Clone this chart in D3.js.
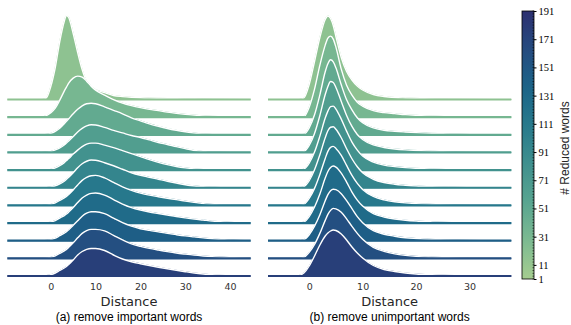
<!DOCTYPE html>
<html>
<head>
<meta charset="utf-8">
<script src="https://cdn.jsdelivr.net/npm/d3@7/dist/d3.min.js"></script>
<style>
  body { margin: 0; background: #fff; }
  svg { display: block; }
</style>
</head>
<body>
<svg id="chart" width="571" height="325"></svg>
<script>
// rows = number of reduced words, top row first
const reducedWords = [1, 20, 39, 58, 77, 96, 115, 134, 153, 172, 191];
const cbarTicks = [1, 11, 31, 51, 71, 91, 111, 131, 151, 171, 191];
const ticksA = [0, 10, 20, 30, 40];
const ticksB = [0, 10, 20, 30];

const gridA = [-9.7, -3, -2, -1, 0, 1, 2, 3, 3.5, 4, 5, 6, 7, 8, 9, 10, 12, 14, 16, 18, 20, 22, 24, 26, 28, 30, 32, 34, 36, 40, 44.6];
const gridB = [-7.7, -3, -2, -1, 0, 1, 2, 3, 3.5, 4, 4.5, 5, 6, 7, 8, 9, 10, 12, 14, 16, 18, 20, 23, 26, 30, 34, 37.8];

// (a) remove important words - density (arbitrary units) per row
const densA = [
  [0, 0, 0, 1.5, 13, 32, 58, 78, 84, 82, 66, 47, 30, 18, 13, 10, 6.8, 4, 2.9, 2.2, 1.7, 1.4, 1.2, 1, 0.8, 0.6, 0.5, 0.4, 0.3, 0.1, 0],
  [0, 0, 0.3, 1.5, 4.5, 9, 17, 26, 30, 34, 39, 41, 40, 36, 31, 27, 22, 17.5, 14, 11.5, 9.5, 7.8, 6.5, 5, 3.8, 2.8, 2, 1.3, 0.8, 0.3, 0],
  [0, 0, 0, 0.5, 1.5, 3.5, 6.5, 11, 13.5, 16, 21, 25.5, 29, 31, 31.5, 31, 28, 24.5, 21, 17, 14, 11, 8.5, 6.3, 4.5, 3, 1.7, 0.8, 0.3, 0, 0],
  [0, 0, 0, 0.3, 1, 2.5, 4.5, 7.5, 9.5, 11.5, 16, 20.5, 24, 26.5, 27.7, 27.5, 25, 22, 19.5, 17, 15, 12.5, 10, 8, 5.8, 3.8, 2, 0.9, 0.3, 0, 0],
  [0, 0, 0, 0.2, 0.8, 2.3, 4.5, 7.5, 9.5, 11.5, 16, 20, 23.5, 26, 27, 27, 25, 22.5, 19.5, 16.5, 13.5, 10.5, 7.8, 5.5, 3.6, 2.2, 1.2, 0.6, 0.2, 0, 0],
  [0, 0, 0, 0.2, 0.8, 2, 4, 6.5, 8.5, 10.5, 15, 20, 24, 26.5, 27.7, 27.5, 25, 22, 18.5, 15, 12.5, 10.5, 8.5, 6.5, 4.7, 3, 1.8, 1, 0.5, 0.1, 0],
  [0, 0, 0, 0.3, 1, 2.5, 5, 7.5, 9, 11, 15.5, 20.5, 25, 28, 29.7, 30, 27.5, 23, 18.5, 15, 12.3, 10.3, 8.7, 7.2, 5.8, 4.3, 3, 1.8, 1, 0.2, 0],
  [0, 0, 0, 0.3, 1, 2.5, 5, 7.5, 9, 11, 15.5, 20.5, 25, 28, 29.7, 30, 28, 23.5, 19, 15.5, 13, 11, 9.5, 8, 6.5, 5.2, 4, 3, 2, 0.7, 0.1],
  [0, 0, 0, 0.3, 1, 2.5, 5, 7.5, 9, 11, 15.5, 20, 24.5, 27.5, 29, 29, 27, 22.5, 18, 14.5, 12, 10.3, 8.8, 7.3, 6, 4.8, 3.8, 2.8, 1.9, 0.6, 0.1],
  [0, 0, 0, 0.3, 1, 2.5, 5, 7.5, 9, 11, 15.5, 20.5, 25, 27.8, 29, 29, 27.5, 23, 18.5, 14.5, 12, 10, 8.3, 6.7, 5.3, 4.2, 3.2, 2.4, 1.7, 0.8, 0.2],
  [0, 0, 0.2, 0.5, 1.3, 3, 5.5, 8, 9.5, 11.5, 16, 21, 24.5, 26.7, 27.5, 27.5, 25.5, 21, 17, 14.3, 12.3, 10.5, 8.8, 7.2, 5.7, 4.3, 3, 2, 1.2, 0.3, 0]
];

// (b) remove unimportant words
const densB = [
  [0, 0, 0, 1.5, 15, 38, 62, 80, 83.5, 81, 74, 63, 42, 28, 19.5, 13.5, 9.5, 5, 3, 2, 1.5, 1.1, 0.6, 0.3, 0.1, 0, 0],
  [0, 0, 0, 0.5, 10, 28, 52, 72, 79, 81, 78, 70, 48, 32, 22, 15, 11, 6.5, 4.5, 3.5, 2.5, 1.8, 1, 0.5, 0.2, 0, 0],
  [0, 0, 0, 0.5, 7, 20, 40, 63, 71, 75, 73, 67, 50, 35, 25, 17, 12, 7, 4.5, 3.5, 2.8, 2.2, 1.5, 0.9, 0.3, 0.1, 0],
  [0, 0, 0, 0.8, 7, 19, 37, 58, 66, 71, 70, 65, 51, 37, 26, 18, 13, 7.5, 5, 3.5, 2.6, 2, 1.2, 0.6, 0.2, 0, 0],
  [0, 0, 0, 1, 7, 18, 34, 52, 59, 63.5, 64, 61, 51, 39, 28, 20, 14, 8, 5, 3.5, 2.5, 1.8, 1, 0.5, 0.2, 0, 0],
  [0, 0, 0, 1, 7, 18, 33, 50, 57, 60.5, 61, 58.5, 50, 39, 29, 21, 15, 8.5, 5.2, 3.5, 2.5, 1.7, 1, 0.5, 0.2, 0, 0],
  [0, 0, 0, 1, 7, 17, 31, 47, 54, 58, 59, 57, 50, 40, 30, 22, 16, 9, 5.5, 3.6, 2.5, 1.8, 1, 0.5, 0.2, 0, 0],
  [0, 0, 0, 1, 6.5, 16, 29, 45, 51.5, 55.5, 57, 56, 50, 41, 31, 23, 17, 9.5, 6, 4, 2.8, 2, 1.2, 0.6, 0.2, 0, 0],
  [0, 0, 0, 1, 6, 14.5, 26, 40, 46, 50, 51.5, 51, 47, 40, 32, 24, 18, 10, 6.5, 4.5, 3, 2.2, 1.3, 0.7, 0.3, 0.1, 0],
  [0, 0, 0, 1, 6, 14, 25, 38, 44, 48, 50, 49.5, 46, 39.5, 32, 25, 19, 11, 7, 4.5, 3, 2, 1.2, 0.6, 0.2, 0, 0],
  [0, 0, 0.5, 3, 10, 20, 31, 40, 43, 45, 46, 45.5, 42, 36, 29, 23, 18, 10.5, 6.5, 4.5, 3, 2, 1.2, 0.6, 0.2, 0, 0]
];

// seaborn "crest" approximated by a few stops
const crestStops = ["#a5cd90", "#7dba91", "#59a590", "#40908e", "#287a8c", "#1c6488", "#254b7f", "#2c2f70"];
const crest = d3.scaleLinear()
  .domain(crestStops.map((c, i) => i / (crestStops.length - 1)))
  .range(crestStops)
  .interpolate(d3.interpolateRgb);

const svg = d3.select("#chart");

const rowY = d3.scaleLinear().domain([0, reducedWords.length - 1]).range([99.5, 276]);
const hScale = d3.scaleLinear().domain([0, 100]).range([0, 100]);
const rowColor = i => crest((i + 1) / (reducedWords.length + 1));

const panels = [
  { grid: gridA, dens: densA, ticks: ticksA, range: [7.3, 250.7], caption: "(a) remove important words" },
  { grid: gridB, dens: densB, ticks: ticksB, range: [268, 511.3], caption: "(b) remove unimportant words" }
];

panels.forEach(p => {
  const x = d3.scaleLinear().domain([p.grid[0], p.grid[p.grid.length - 1]]).range(p.range);
  const g = svg.append("g");

  p.dens.forEach((row, i) => {
    const base = rowY(i);
    const pts = p.grid.map((v, j) => [v, row[j]]);
    const col = rowColor(i);
    const area = d3.area()
      .x(d => x(d[0]))
      .y0(base)
      .y1(d => base - hScale(d[1]))
      .curve(d3.curveMonotoneX);
    const line = d3.line()
      .x(d => x(d[0]))
      .y(d => base - hScale(d[1]))
      .curve(d3.curveMonotoneX);

    g.append("path").attr("d", area(pts))
      .attr("fill", col).attr("stroke", col).attr("stroke-width", 1);
    g.append("path").attr("d", line(pts))
      .attr("fill", "none").attr("stroke", "#fff").attr("stroke-width", 1.4);
    g.append("line")
      .attr("x1", p.range[0]).attr("x2", p.range[1])
      .attr("y1", base).attr("y2", base)
      .attr("stroke", col).attr("stroke-width", 2.2);
  });

  const cx = (p.range[0] + p.range[1]) / 2;
  const ax = g.append("g").attr("transform", "translate(0,283)")
    .call(d3.axisBottom(x).tickValues(p.ticks).tickSize(0).tickPadding(0));
  ax.select(".domain").remove();
  ax.selectAll("text")
    .attr("font-family", "DejaVu Sans").attr("font-size", 9.5).attr("fill", "#333");

  g.append("text").attr("x", cx).attr("y", 306)
    .attr("text-anchor", "middle").attr("font-family", "DejaVu Sans")
    .attr("font-size", 13).attr("fill", "#262626").text("Distance");
  g.append("text").attr("x", cx).attr("y", 321)
    .attr("text-anchor", "middle").attr("font-family", "Liberation Sans")
    .attr("font-size", 12).attr("fill", "#000").text(p.caption);
});

// colorbar
const cb = { x: 522, w: 12, top: 11, bottom: 279 };
const cbScale = d3.scaleLinear().domain([1, 191]).range([cb.bottom, cb.top]);
const defs = svg.append("defs");
const grad = defs.append("linearGradient").attr("id", "crestGrad")
  .attr("x1", 0).attr("y1", 1).attr("x2", 0).attr("y2", 0);
d3.range(0, 1.0001, 0.05).forEach(t => {
  grad.append("stop").attr("offset", t).attr("stop-color", crest(t));
});
svg.append("rect")
  .attr("x", cb.x).attr("y", cb.top).attr("width", cb.w).attr("height", cb.bottom - cb.top)
  .attr("fill", "url(#crestGrad)").attr("stroke", "#000").attr("stroke-width", 0.8);

const cbAxis = svg.append("g").attr("transform", `translate(${cb.x + cb.w},0)`);
cbAxis.selectAll("line.minor").data(d3.range(1, 192, 2)).join("line")
  .attr("x1", -1.5).attr("x2", 0)
  .attr("y1", d => cbScale(d)).attr("y2", d => cbScale(d))
  .attr("stroke", "#000").attr("stroke-width", 0.6);
cbAxis.call(d3.axisRight(cbScale).tickValues(cbarTicks).tickSize(2.5).tickPadding(2));
cbAxis.select(".domain").remove();
cbAxis.selectAll("text")
  .attr("font-family", "Liberation Serif").attr("font-size", 10.5).attr("fill", "#000");

svg.append("text")
  .attr("transform", "translate(569,148) rotate(-90)")
  .attr("text-anchor", "middle").attr("font-family", "Liberation Sans")
  .attr("font-size", 12).attr("fill", "#262626").text("# Reduced words");
</script>
</body>
</html>
